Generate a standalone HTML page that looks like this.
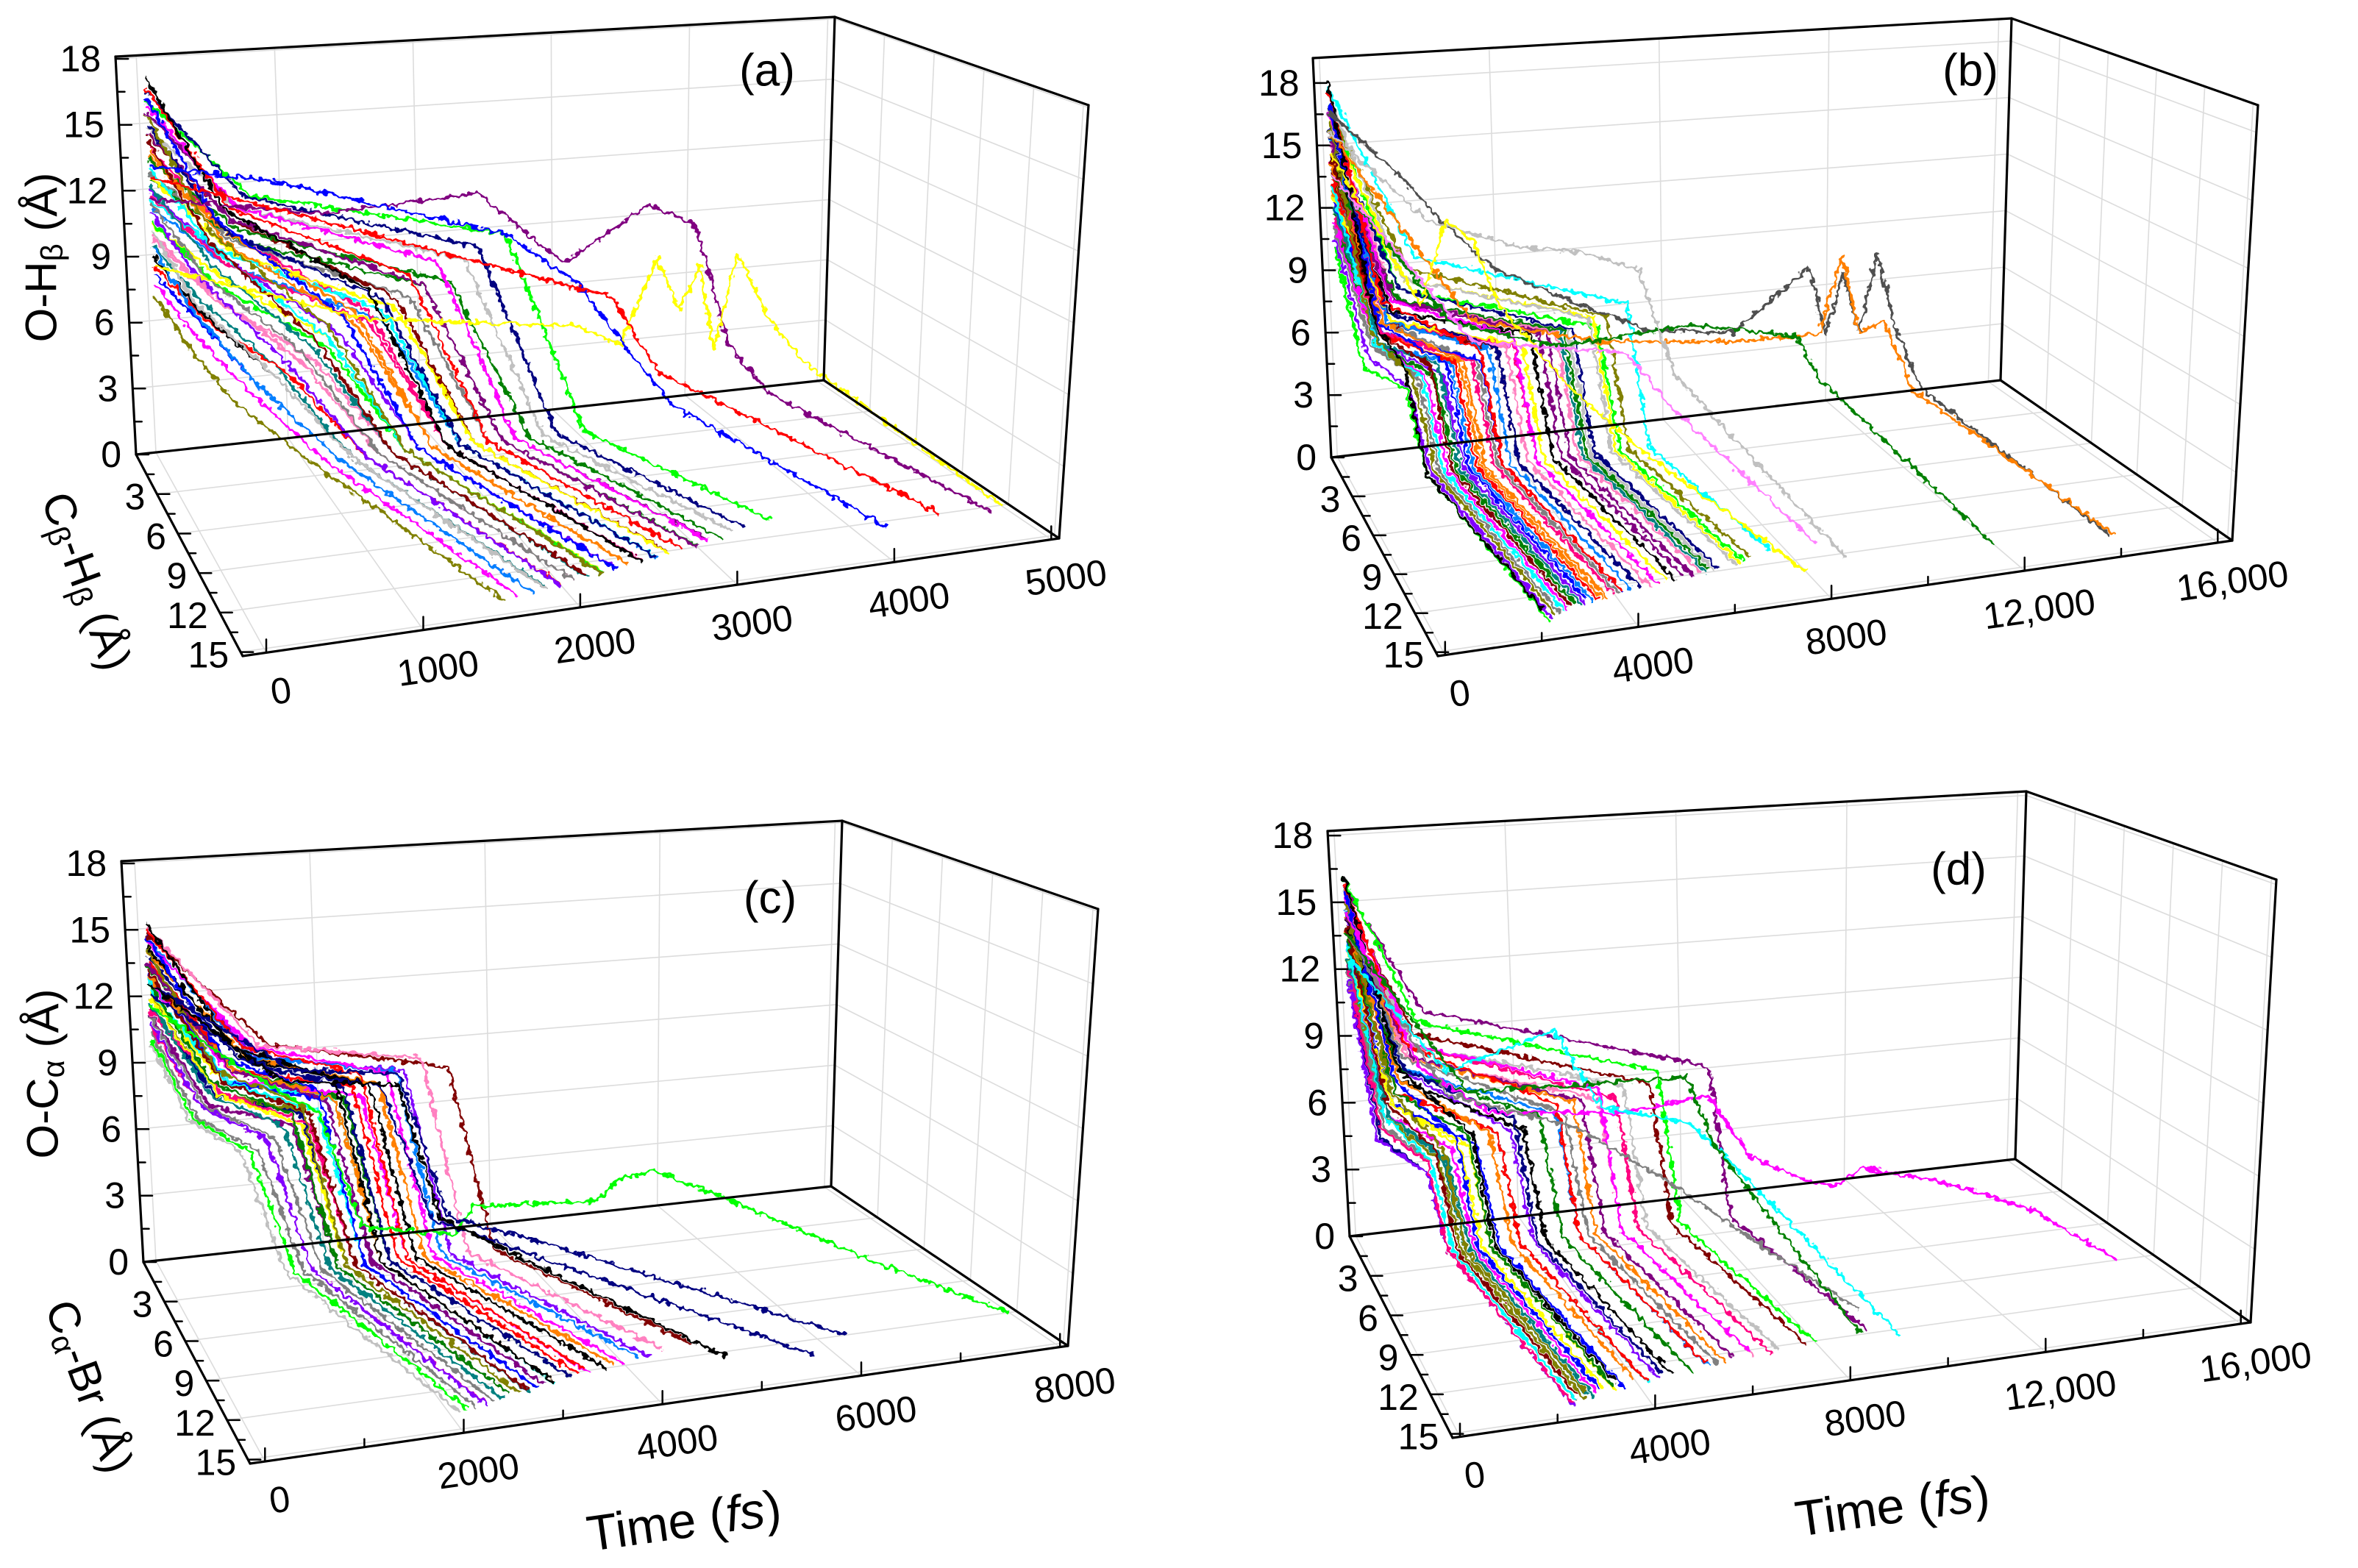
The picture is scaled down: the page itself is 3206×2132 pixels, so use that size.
<!DOCTYPE html>
<html><head><meta charset="utf-8"><style>
html,body{margin:0;padding:0;background:#fff;}
svg{display:block;font-family:"Liberation Sans",Arial,sans-serif;}
</style></head><body>
<svg id="fig" width="3206" height="2132" viewBox="0 0 3206 2132" xmlns="http://www.w3.org/2000/svg">
<defs>
<filter id="jit" x="-5%" y="-5%" width="110%" height="110%">
<feTurbulence type="fractalNoise" baseFrequency="0.11" numOctaves="2" seed="3" result="n"/>
<feDisplacementMap in="SourceGraphic" in2="n" scale="13" xChannelSelector="R" yChannelSelector="G"/>
</filter>
</defs>
</svg>
<script>
// ---------- Panel (a) data ----------
const aZ0=[17.5,17,16.6,16.2,15.8,15.4,15,14.6,14.2,13.8,13.4,13,12.6,12.2,11.8,11.4,11,10.6,10.2,9.8,9.4,9,8.6,8.2,7.6,16.9,15.9,14.9,13.9,12.9,11.9,10.9,9.9,14.4,13.2,12.4,16.4,15.2,10.4,11.6];
const aTK=[500,550,450,600,400,500,550,400,500,600,450,550,400,500,350,300,450,250,400,250,300,350,300,250,200,650,600,550,500,600,500,450,300,500,550,450,700,600,350,500];
const aZK=[11.5,11.5,11,11.5,10.5,10.5,11,10,10,10.5,9.5,9.5,9,9,8.5,8.5,8,7.5,7.5,7,7,6.5,6.5,6,5.5,12,11.5,11,10.5,10,9.5,8.5,7.5,10.5,10,9.5,12,11.5,8,9];
const aTM=[1500,1800,1300,2000,1200,1600,1900,1100,1400,2100,1200,1700,1100,1500,1000,900,1200,800,1100,700,800,900,700,600,500,2300,2000,1700,1400,1900,1600,1200,800,1500,1800,1300,2500,2200,1000,1600];
const aZM=[7.5,8,6.5,8.5,6,7,7.5,5.5,6,7.5,5.5,6.5,5,6,5,4.5,5,4,4.5,3.5,4,4,3.5,3.5,3,9,8.5,7,6.5,7.5,6.5,5.5,4.5,6.5,7,5.5,9.5,8.5,4.5,6];
const aTF=[2000,2300,1800,2500,1700,2100,2400,1600,1900,2600,1700,2200,1600,2000,1500,1400,1700,1300,1600,1200,1300,1400,1200,1100,1000,2800,2500,2200,1900,2400,2100,1700,1300,2000,2300,1800,3000,2700,1500,2100];
const aTE=[2600,2900,2400,3100,2300,2700,3000,2200,2500,3200,2300,2800,2200,2600,2100,2000,2300,1900,2200,1800,1900,2000,1800,1700,1600,3400,3100,2800,2500,3000,2700,2300,1900,2600,2900,2400,3600,3300,2100,2700];
const aDE=[12.5,12,12.8,11.6,13,12.3,12,13,12.6,11.6,13,12.2,13.2,12.4,13.2,13.5,12.8,13.6,13,13.8,13.6,13.4,13.8,13.8,14,11,11.4,12,12.5,11.8,12.2,12.6,13.4,12.4,12,12.6,10.8,11.2,13.2,12.4];
const aSpecial=[
 ['#800080',[[0,1,12],[1200,1.5,11],[2300,1.8,11.5],[2900,2,8],[3500,2.2,10.5],[3800,2.5,9.5],[4000,3,4],[4200,4,2],[4900,12.5,0]]],
 ['#ffff00',[[0,1,9],[1500,1.5,6],[3000,2,5],[3300,2.2,4],[3550,2.3,8],[3700,2.4,5.5],[3850,2.4,7.5],[3950,2.5,3.5],[4100,2.6,8],[4300,2.8,5],[4500,3.5,3],[5000,12,0]]],
 ['#0000ff',[[0,1,13.5],[900,1.3,12.5],[1700,1.5,11],[2500,1.8,9.5],[3000,2,7],[3300,3,4],[3500,4,2],[4200,12.5,0]]],
 ['#ff0000',[[0,1,13],[1500,1.5,10],[2900,2,7],[3200,2.5,6.5],[3500,3,3],[3800,4,2],[4600,12,0]]]
];
// ---------- Panel (b) data ----------
const bZ0=[18.5,18,17.5,17,16.5,16,15.5,15,14.5,14,13.5,13,12.5,12,11.5,11,10.5,17.8,16.8,15.8,14.8,13.8,12.8,11.8,17.2,16.2,15.2,14.2,13.2,12.2,18.2,16.6,15.6,14.6,13.6,12.6,17.4,16.4,15.4,14.4];
const bTK=[800,1000,900,1200,700,1100,1300,900,1000,1400,800,1200,900,1000,700,600,500,1500,1300,1100,1200,900,1000,800,1600,1400,1200,1000,900,800,1800,1500,1300,1100,1000,900,1400,1200,1000,800];
const bZK=[7,8,7,8,6.5,7.5,8,6.5,7,8,6,7,6,6.5,6,5.5,5,9,8,7,7.5,6.5,6.5,6,9.5,8.5,8,7,6.5,6,10,9,8,7,7,6,8.5,8,7,6];
const bTM=[1400,3200,2400,4000,1600,3600,4600,2000,2800,5200,1800,4200,2200,3000,1700,1500,1400,5800,5000,3400,4400,2600,3200,1900,6200,5400,4800,3600,2700,2100,6700,5900,5100,4000,3100,2300,6000,5300,3800,2500];
const bZM=[5,5.5,5,6,4.5,5.5,6,5,5,6,4.5,5.5,5,5,4.5,4,4,6.5,6,5.5,6,5,5,4.5,6.5,6,6,5.5,5,4.5,7,6.5,6,5.5,5,4.5,6,6,5.5,5];
const bTF=[1700,3500,2700,4300,1900,3900,4900,2300,3100,5500,2100,4500,2500,3300,2000,1800,1700,6100,5300,3700,4700,2900,3500,2200,6500,5700,5100,3900,3000,2400,7000,6200,5400,4300,3400,2600,6300,5600,4100,2800];
const bTE=[2400,4200,3400,5000,2600,4600,5600,3000,3800,6200,2800,5200,3200,4000,2700,2500,2400,6800,6000,4400,5400,3600,4200,2900,7200,6400,5800,4600,3700,3100,7700,6900,6100,5000,4100,3300,7000,6300,4800,3500];
const bDE=[13,12.5,12.8,12.3,13.5,12.4,12,13,12.8,11.8,13.2,12.2,13,12.6,13.4,13.8,14,11.6,12,12.4,12.2,12.8,12.6,13.2,11.4,11.8,12.2,12.4,12.8,13,11,11.6,12,12.4,12.6,13,11.6,12,12.5,13];
const bSpecial=[
 ['#505050',[[0,1,17],[1500,1.5,14],[2500,2,11.5],[3500,2.2,9.5],[5000,2.5,8],[7000,2.5,6],[9000,2.6,5.5],[10700,2.8,8.5],[11100,2.8,5],[11500,2.8,8],[11900,2.8,5],[12300,2.8,8.8],[12700,3,5],[13000,4,2.5],[14300,13.5,0]]],
 ['#ff8000',[[0,1,16],[3000,2,7],[6000,2.2,5.5],[9000,2.5,5],[11000,2.6,5],[11500,2.7,8.8],[11900,2.8,5],[12400,3,5.5],[12800,4,2.5],[14400,13.5,0]]],
 ['#008000',[[0,1,14],[2500,2,7],[5000,2.2,5.5],[8000,2.4,6],[10500,2.6,5],[10900,3,3],[12000,13,0]]],
 ['#c0c0c0',[[0,1,16],[2000,2,12],[4000,2.2,10.5],[5500,2.4,10],[6800,2.5,9],[7500,3,4],[9000,12.5,0]]],
 ['#ffff00',[[0,1,15],[1800,2,8],[2400,2.2,12],[3000,2.3,11],[3500,2.5,8],[5000,2.8,4],[6500,3.5,1],[8000,13,0]]],
 ['#ff80ff',[[0,1,14],[3000,2,6],[6500,2.5,5],[7400,3,2.5],[8700,11,0]]]
];
// ---------- Panel (c) data ----------
const cZ0=[15.7,15.4,15.1,14.8,14.5,14.2,13.9,13.6,13.3,13,12.7,12.4,12.1,11.8,11.5,11.2,10.5,10.2,15.5,15,14.6,14,13.5,13,12.5,12,11.6,15.2,14.4,13.8,13.2,12.6,12,11,10.8,14.9];
const cTK=[900,1000,800,1100,700,950,850,750,900,650,800,700,600,750,550,500,400,350,1200,1100,1000,900,800,950,700,650,600,1300,1050,900,850,750,700,500,450,1150];
const cZK=[10,10,9.5,10,9,9.5,9,8.5,9,8.5,8.5,8,8,8,7.5,7.5,7,7,10,9.5,9.5,9,8.5,8.5,8,8,7.5,10,9.5,9,8.5,8.5,8,7.5,7,9.5];
const cTM=[2000,2300,1800,2600,1600,2100,1900,1700,2000,1500,1800,1600,1400,1700,1300,1200,1000,900,3000,2700,2400,2200,1900,2300,1700,1600,1500,3300,2500,2100,2000,1800,1700,1200,1100,2800];
const cZM=[8.5,8.5,8,8.5,7.5,8,7.5,7,7.5,7,7,6.5,6.5,6.5,6,6,5.5,5.5,9,8.5,8,8,7.5,7.5,7,7,6.5,8.5,8,7.5,7.5,7,7,6,5.5,8.5];
const cTF=[2400,2700,2200,3000,2000,2500,2300,2100,2400,1900,2200,2000,1800,2100,1700,1600,1400,1300,3400,3100,2800,2600,2300,2700,2100,2000,1900,3700,2900,2500,2400,2200,2100,1600,1500,3200];
const cTE=[3200,3600,3000,4000,2800,3400,3100,2900,3200,2700,3000,2800,2600,2900,2500,2400,2200,2100,4500,4200,3800,3500,3100,3600,2900,2800,2700,4800,3900,3400,3200,3000,2900,2400,2300,4300];
const cDE=[12.5,12,12.8,11.8,13,12.4,12.6,12.8,12.5,13,12.8,13,13.2,12.8,13.3,13.5,13.6,13.8,11.2,11.6,12,12.2,12.6,12.2,12.8,13,13,11,11.8,12.4,12.6,12.8,13,13.4,13.6,11.6];
const cSpecial=[
 ['#00ff00',[[0,1,12],[1000,1.5,9],[1800,2,7],[2200,2.5,2],[3200,3,1.5],[3400,3.2,2.8],[4800,3.2,2.4],[5100,3,3.2],[5500,3,3.4],[6200,4,2.2],[7300,8,0.6],[8000,12,0]]],
 ['#000080',[[0,1,13],[1500,1.8,9],[2700,2,8.5],[3200,2.5,2],[4000,3,1],[6300,12,0]]],
 ['#000080',[[0,1,12.5],[1300,1.8,9],[2500,2,8],[3000,2.5,2],[5800,13.2,0]]],
 ['#000000',[[0,1,13],[1400,1.8,8.5],[2700,2,8],[3100,2.5,2],[5000,12.5,0]]]
];
// ---------- Panel (d) data ----------
const dZ0=[16.5,16.2,15.9,15.6,15.3,15,14.7,14.4,14.1,13.8,13.5,13.2,12.9,12.6,12.3,12,16.4,16,15.5,15.1,14.6,14.2,13.7,13.3,12.8,12.4,16.1,15.4,14.8,14.3,13.6,13,12.5,15.8,15.2,14.5];
const dTK=[1000,1200,900,1400,800,1100,1300,700,1000,900,600,800,700,500,600,400,1500,1300,1200,1100,1000,900,800,700,600,500,1600,1400,1200,1000,900,800,700,1300,1100,1000];
const dZK=[8,9,7.5,9,7,8,8.5,6.5,7.5,7,6,6.5,6,5.5,5.5,5,10,9,8.5,8,7.5,7,6.5,6,6,5,10.5,9.5,8.5,8,7,6.5,6,9,8.5,8];
const dTM=[2600,4600,2200,5600,1900,3600,5200,1700,3000,2500,1600,2300,1900,1500,1600,1500,7000,6200,5600,4600,3800,3200,2700,2100,1800,1500,8200,6800,5000,4200,3200,2500,2000,6000,4800,3500];
const dZM=[5,6,5,6.5,4.5,5.5,6,4.5,5,5,4,4.5,4,4,4,3.5,7,6.5,6,5.5,5,5,4.5,4.5,4,3.5,7,6.5,6,5.5,5,4.5,4,6,5.5,5];
const dTF=[2900,4900,2500,5900,2200,3900,5500,2000,3300,2800,1900,2600,2200,1800,1900,1800,7300,6500,5900,4900,4100,3500,3000,2400,2100,1800,8500,7100,5300,4500,3500,2800,2300,6300,5100,3800];
const dTE=[3600,5600,3200,6600,2900,4600,6200,2700,4000,3500,2600,3300,2900,2500,2600,2500,8000,7200,6600,5600,4800,4200,3700,3100,2800,2500,9200,7800,6000,5200,4200,3500,3000,7000,5800,4500];
const dDE=[13,12.5,13.2,12.2,13.4,12.8,12.3,13.6,13,13.2,13.8,13.3,13.6,14,13.9,14.2,12,12.3,12.5,12.8,13,13.2,13.5,13.7,13.9,14.2,11.8,12.2,12.8,13,13.4,13.6,13.9,12.5,12.8,13.2];
const dSpecial=[
 ['#ff00ff',[[0,1,15],[1500,1.5,8],[3000,2,6],[6000,2.2,5.5],[8000,2.5,6],[9000,2.5,3],[10000,2.8,2],[10800,3,1.5],[11500,3,2.2],[12500,3.5,1.8],[13500,4.5,1.5],[14500,6,1],[15400,9,0]]],
 ['#808080',[[0,1,14],[2000,2,7],[5000,2.2,5],[7000,3,2.5],[8500,8,1],[9200,11,0.5]]],
 ['#00ffff',[[0,1,13],[2000,2,8],[4500,2.2,9.5],[5500,2.5,6],[7500,2.8,5],[8000,3,4],[9700,12.5,0]]],
 ['#008000',[[0,1,14],[2500,2,7],[5000,2.3,7],[7500,2.5,7],[8000,3,4],[9000,12,0]]]
];
const colors=['#000000','#ff0000','#0000ff','#ff00ff','#808000','#000080','#800080','#800000','#ff8000','#008000','#00ffff','#ffff00','#008080','#ff0080','#808080','#8000ff','#00ff00','#c0c0c0','#ff80c0','#0080ff'];

const timeTicksAB=[0,1000,2000,3000,4000,5000];
const timeLabelsA=['0','1000','2000','3000','4000','5000'];
const timeTicksB=[0,4000,8000,12000,16000];
const timeLabelsB=['0','4000','8000','12,000','16,000'];
const timeTicksC=[0,2000,4000,6000,8000];
const timeLabelsC=['0','2000','4000','6000','8000'];
const zTicks=[0,3,6,9,12,15,18];
const dTicks=[3,6,9,12,15];

const panels=[
 {id:'a',tmin:-150,tmax:5050,dmax:15.3,zmax:18.1,bl:[185,618],blT:[157,77],br:[1120,517],brT:[1135,23],fr:[1440,732],frT:[1480,143],fl:[330,892],
  tt:timeTicksAB,tl:timeLabelsA,step:1000,z0:aZ0,tK:aTK,zK:aZK,tM:aTM,zM:aZM,tF:aTF,tE:aTE,dE:aDE,sp:aSpecial,letter:[1043,96],
  ztitle:['O-H','β'],ztpos:[56,350],dtitle:['C','β','-H','β'],dtpos:[118,790]},
 {id:'b',tmin:-150,tmax:16300,dmax:15.3,zmax:19.2,bl:[1810,622],blT:[1785,79],br:[2720,517],brT:[2735,25],fr:[3035,735],frT:[3070,143],fl:[1955,892],
  tt:timeTicksB,tl:timeLabelsB,step:2000,z0:bZ0,tK:bTK,zK:bZK,tM:bTM,zM:bZM,tF:bTF,tE:bTE,dE:bDE,sp:bSpecial,letter:[2679,96]},
 {id:'c',tmin:-150,tmax:8080,dmax:15.3,zmax:18.1,bl:[195,1716],blT:[165,1171],br:[1130,1613],brT:[1145,1116],fr:[1452,1830],frT:[1493,1236],fl:[340,1990],
  tt:timeTicksC,tl:timeLabelsC,step:1000,z0:cZ0,tK:cTK,zK:cZK,tM:cTM,zM:cZM,tF:cTF,tE:cTE,dE:cDE,sp:cSpecial,letter:[1047,1221],
  ztitle:['O-C','α'],ztpos:[58,1460],dtitle:['C','α','-Br',''],dtpos:[122,1885],ttpos:[930,2068]},
 {id:'d',tmin:-150,tmax:16200,dmax:15.3,zmax:18.2,bl:[1835,1681],blT:[1805,1130],br:[2740,1576],brT:[2755,1076],fr:[3060,1798],frT:[3095,1196],fl:[1975,1955],
  tt:timeTicksB,tl:timeLabelsB,step:2000,z0:dZ0,tK:dTK,zK:dZK,tM:dTM,zM:dZM,tF:dTF,tE:dTE,dE:dDE,sp:dSpecial,letter:[2663,1182],ttpos:[2573,2048]}
];

const NS='http://www.w3.org/2000/svg';
const svg=document.getElementById('fig');
function el(tag,attrs,parent){const e=document.createElementNS(NS,tag);for(const k in attrs)e.setAttribute(k,attrs[k]);(parent||svg).appendChild(e);return e;}

function makeProj(c){
  const flT=[c.fl[0]+(c.blT[0]-c.bl[0])+((c.frT[0]-c.fr[0])-(c.brT[0]-c.br[0])),
             c.fl[1]+(c.blT[1]-c.bl[1])+((c.frT[1]-c.fr[1])-(c.brT[1]-c.br[1]))];
  c.flT=flT;
  return function(t,d,z){
    const u=(t-c.tmin)/(c.tmax-c.tmin), v=d/c.dmax, w=z/c.zmax;
    const bil=(i,A,B,C,D)=>A[i]*(1-u)*(1-v)+B[i]*u*(1-v)+C[i]*u*v+D[i]*(1-u)*v;
    const bx=bil(0,c.bl,c.br,c.fr,c.fl), by=bil(1,c.bl,c.br,c.fr,c.fl);
    const tx=bil(0,c.blT,c.brT,c.frT,flT), ty=bil(1,c.blT,c.brT,c.frT,flT);
    return [bx+w*(tx-bx), by+w*(ty-by)];
  };
}
function line(g,p,q,stroke,sw){return el('line',{x1:p[0].toFixed(1),y1:p[1].toFixed(1),x2:q[0].toFixed(1),y2:q[1].toFixed(1),stroke:stroke,'stroke-width':sw,'stroke-linecap':'round'},g);}
function txt(g,x,y,s,size,anchor){const e=el('text',{x:x.toFixed(1),y:y.toFixed(1),'font-size':size,'text-anchor':anchor||'middle','dominant-baseline':'central',fill:'#000'},g);e.textContent=s;return e;}

panels.forEach(c=>{
  const P=makeProj(c);
  const g=el('g',{});
  
  
  const grid=el('g',{stroke:'#dcdcdc','stroke-width':1.6,fill:'none'},g);
  
  
  c.tt.forEach(t=>{ line(grid,P(t,0,0),P(t,0,c.zmax),'#dcdcdc',1.6); line(grid,P(t,0,0),P(t,c.dmax,0),'#dcdcdc',1.6); });
  zTicks.forEach(z=>{ if(z>c.zmax)return; line(grid,P(c.tmin,0,z),P(c.tmax,0,z),'#dcdcdc',1.6); line(grid,P(c.tmax,0,z),P(c.tmax,c.dmax,z),'#dcdcdc',1.6); });
  dTicks.forEach(d=>{ line(grid,P(c.tmin,d,0),P(c.tmax,d,0),'#dcdcdc',1.6); line(grid,P(c.tmax,d,0),P(c.tmax,d,c.zmax),'#dcdcdc',1.6); });
  const tr=el('g',{fill:'none','stroke-width':3.6,'stroke-linejoin':'round',filter:'url(#jit)'},g);
  
  
  const draw=(pts,col,idx)=>{
    const s=pts.map(p=>P(p[0],p[1],p[2]).map(v=>v.toFixed(1)).join(',')).join(' ');
    const pl=el('polyline',{points:s,stroke:col},tr);
    
    
  };
  for(let i=c.z0.length-1;i>=0;i--){
    draw([[0,1,c.z0[i]],[c.tK[i],1.4,c.zK[i]],[c.tM[i],1.8,c.zM[i]],[c.tF[i],2.6,0.4],[c.tE[i],c.dE[i],0]],colors[i%colors.length],i);
  }
  c.sp.forEach((s,j)=>draw(s[1],s[0],'special-'+j));
  const bx=el('g',{},g);
  
  
  const K='#000',W=3.2;
  line(bx,c.bl,c.blT,K,W); line(bx,c.blT,c.brT,K,W); line(bx,c.brT,c.br,K,W); line(bx,c.br,c.bl,K,W);
  line(bx,c.brT,c.frT,K,W); line(bx,c.frT,c.fr,K,W); line(bx,c.fr,c.br,K,W);
  line(bx,c.bl,c.fl,K,W); line(bx,c.fl,c.fr,K,W);
  const zl=el('g',{},g);
  
  
  for(let z=0;z<=18;z+=1.5){const p=P(c.tmin,0,z);const major=(z%3===0);line(zl,p,[p[0]+(major?17:10),p[1]],K,2.5);}
  zTicks.forEach(z=>{const p=P(c.tmin,0,z);txt(zl,p[0]-20,p[1],String(z),50,'end');});
  const dl=el('g',{},g);
  
  
  for(let d=1.5;d<=15;d+=1.5){const p=P(c.tmin,d,0);const major=(d%3===0);line(dl,p,[p[0]+(major?17:10),p[1]],K,2.5);}
  dTicks.forEach(d=>{const p=P(c.tmin,d,0);txt(dl,p[0]-16,p[1]+4,String(d),50,'end');});
  const tl=el('g',{},g);
  
  
  const last=c.tt[c.tt.length-1];
  for(let t=0;t<=last;t+=c.step){const p=P(t,c.dmax,0);const major=c.tt.indexOf(t)>=0;line(tl,p,[p[0],p[1]-(major?18:11)],K,2.5);}
  c.tt.forEach((t,i)=>{const p=P(t,c.dmax,0);const e=txt(tl,0,0,c.tl[i],50,'middle');e.setAttribute('transform','translate('+(p[0]+20).toFixed(1)+','+(p[1]+52).toFixed(1)+') rotate(-8)');});
  const L=txt(g,c.letter[0],c.letter[1],'('+c.id+')',62,'middle');
  
  
  if(c.ztitle){
    const t=el('text',{x:0,y:0,'font-size':60,'text-anchor':'middle','dominant-baseline':'central',transform:'translate('+c.ztpos[0]+','+c.ztpos[1]+') rotate(-90)'},g);
    
    
    t.innerHTML=c.ztitle[0]+'<tspan font-size="42" dy="14">'+c.ztitle[1]+'</tspan><tspan dy="-14">  (Å)</tspan>';
    const t2=el('text',{x:0,y:0,'font-size':60,'text-anchor':'middle','dominant-baseline':'central',transform:'translate('+c.dtpos[0]+','+c.dtpos[1]+') rotate(70)'},g);
    
    
    let h=c.dtitle[0]+'<tspan font-size="42" dy="14">'+c.dtitle[1]+'</tspan><tspan dy="-14">'+c.dtitle[2]+'</tspan>';
    if(c.dtitle[3]) h+='<tspan font-size="42" dy="14">'+c.dtitle[3]+'</tspan><tspan dy="-14"> (Å)</tspan>'; else h+='<tspan> (Å)</tspan>';
    t2.innerHTML=h;
  }
  if(c.ttpos){
    const t3=el('text',{x:0,y:0,'font-size':68,'text-anchor':'middle','dominant-baseline':'central',transform:'translate('+c.ttpos[0]+','+c.ttpos[1]+') rotate(-8)'},g);
    
    
    t3.innerHTML='Time (<tspan font-style="italic">fs</tspan>)';
  }
});
</script>
</body></html>
